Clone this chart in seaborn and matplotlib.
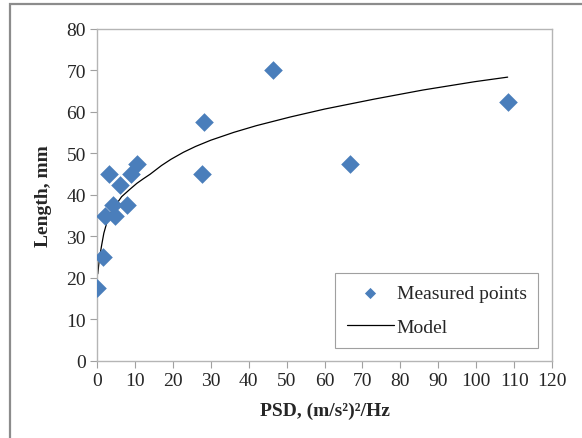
import matplotlib
matplotlib.use("Agg")
import matplotlib.pyplot as plt
import numpy as np
import pandas as pd
import seaborn as sns

# Measured points
psd = [0.1, 1.7, 2.1, 3.2, 4.3, 4.8, 6.1, 7.9, 8.9, 10.5, 27.6, 28.1, 46.5, 66.6, 108.3]
length = [17.5, 25, 35, 45, 37.5, 35, 42.5, 37.5, 45, 47.5, 45, 57.5, 70, 47.5, 62.5]

# Model curve
model_psd = [0.2, 0.6, 1.2, 1.8, 2.6, 3.5, 4.8, 6.5, 8.7, 10.5, 12.2, 14, 17, 19.5,
             22.8, 26, 30, 36.1, 42, 48, 51, 60, 73.1, 86, 99.6, 108.3]
model_len = [21, 24.5, 27.8, 30.8, 33.4, 35.5, 37.4, 39.6, 41.4, 42.8, 43.9, 45.0, 47.1, 48.6,
             50.3, 51.7, 53.2, 55.1, 56.7, 58.1, 58.8, 60.7, 63.1, 65.3, 67.3, 68.4]

x_ticks = [0, 10, 20, 30, 40, 50, 60, 70, 80, 90, 100, 110, 120]
y_ticks = [0, 10, 20, 30, 40, 50, 60, 70, 80]

sns.set_style("white")
plt.rcParams["font.family"] = ["Liberation Serif", "DejaVu Serif"]

df = pd.DataFrame({"psd": psd, "length": length})
model = pd.DataFrame({"psd": model_psd, "length": model_len})

fig = plt.figure(figsize=(5.82, 4.39), dpi=100)
ax = fig.add_axes([0.1667, 0.1754, 0.7818, 0.7563])

sns.scatterplot(data=df, x="psd", y="length", marker="D", s=90, color="#4a7ebb",
                edgecolor="#4a7ebb", linewidth=0, ax=ax, label="Measured points", zorder=3)
sns.lineplot(data=model, x="psd", y="length", color="black", linewidth=0.9,
             sort=False, ax=ax, label="Model", zorder=2)

ax.set_xlim(0, 120)
ax.set_ylim(0, 80)
ax.set_xticks(x_ticks)
ax.set_yticks(y_ticks)
ax.tick_params(axis="both", labelsize=14, length=5, width=0.8, color="#a0a0a0",
               direction="out", bottom=True, left=True, pad=3)
for side in ["left", "bottom", "top", "right"]:
    ax.spines[side].set_color("#b5b5b5")
    ax.spines[side].set_linewidth(1.0)

ax.set_xlabel("PSD, (m/s²)²/Hz", fontsize=14, fontweight="bold", labelpad=9)
ax.set_ylabel("Length, mm", fontsize=14, fontweight="bold", labelpad=10)

leg = ax.legend(loc="lower right", bbox_to_anchor=(0.97, 0.04), fontsize=14,
                frameon=True, fancybox=False, framealpha=1, borderpad=0.6,
                handlelength=2.4, handletextpad=0.15, labelspacing=0.85, markerscale=0.6,
                borderaxespad=0)
leg.get_frame().set_edgecolor("#a0a0a0")
leg.get_frame().set_linewidth(0.8)

# outer chart border (cut off at right and bottom in the original)
fig.patches.append(plt.Rectangle((10 / 582, -0.05), 1.2, 1 - 5 / 439 + 0.05,
                                 transform=fig.transFigure, fill=False,
                                 edgecolor="#8c8c8c", linewidth=1.6))

fig.savefig("out.png", dpi=100)
